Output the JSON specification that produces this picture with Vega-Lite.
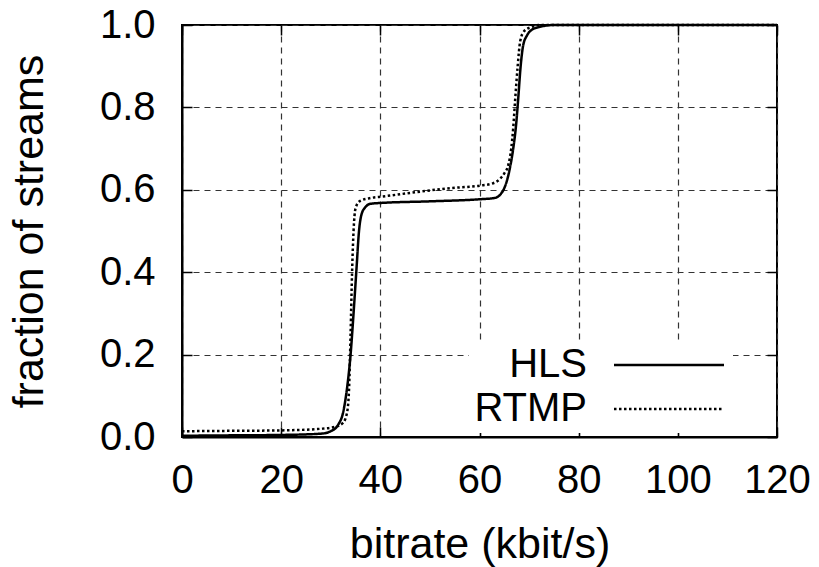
{
  "$schema": "https://vega.github.io/schema/vega-lite/v6.json",
  "width": 595,
  "height": 412,
  "autosize": {"type": "none"},
  "padding": {"left": 182, "top": 25, "right": 42, "bottom": 130},
  "background": "white",
  "config": {
    "font": "Liberation Sans",
    "view": {"stroke": "black", "strokeWidth": 2},
    "axis": {"labelFont": "Liberation Sans", "titleFont": "Liberation Sans", "labelColor": "black", "titleColor": "black", "titleFontWeight": "normal", "domainColor": "black", "domainWidth": 2, "tickColor": "black", "tickWidth": 1.5}
  },
  "data": {"values": [
    {"s": "HLS", "x": 0, "y": 0.003},
    {"s": "HLS", "x": 10, "y": 0.004},
    {"s": "HLS", "x": 20, "y": 0.005},
    {"s": "HLS", "x": 28, "y": 0.008},
    {"s": "HLS", "x": 30, "y": 0.014},
    {"s": "HLS", "x": 31.5, "y": 0.03},
    {"s": "HLS", "x": 32.5, "y": 0.06},
    {"s": "HLS", "x": 33.3, "y": 0.12},
    {"s": "HLS", "x": 34, "y": 0.2},
    {"s": "HLS", "x": 34.6, "y": 0.3},
    {"s": "HLS", "x": 35.2, "y": 0.41},
    {"s": "HLS", "x": 35.7, "y": 0.5},
    {"s": "HLS", "x": 36.2, "y": 0.54},
    {"s": "HLS", "x": 37, "y": 0.558},
    {"s": "HLS", "x": 38, "y": 0.566},
    {"s": "HLS", "x": 40, "y": 0.568},
    {"s": "HLS", "x": 50, "y": 0.572},
    {"s": "HLS", "x": 60, "y": 0.577},
    {"s": "HLS", "x": 63, "y": 0.58},
    {"s": "HLS", "x": 64.3, "y": 0.59},
    {"s": "HLS", "x": 65.2, "y": 0.61},
    {"s": "HLS", "x": 66, "y": 0.645},
    {"s": "HLS", "x": 66.8, "y": 0.7},
    {"s": "HLS", "x": 67.4, "y": 0.76},
    {"s": "HLS", "x": 67.8, "y": 0.82},
    {"s": "HLS", "x": 68.3, "y": 0.9},
    {"s": "HLS", "x": 68.8, "y": 0.95},
    {"s": "HLS", "x": 69.6, "y": 0.975},
    {"s": "HLS", "x": 70.5, "y": 0.988},
    {"s": "HLS", "x": 72, "y": 0.995},
    {"s": "HLS", "x": 75, "y": 1.0},
    {"s": "HLS", "x": 120, "y": 1.0},
    {"s": "RTMP", "x": 0, "y": 0.014},
    {"s": "RTMP", "x": 10, "y": 0.015},
    {"s": "RTMP", "x": 20, "y": 0.016},
    {"s": "RTMP", "x": 28, "y": 0.02},
    {"s": "RTMP", "x": 31, "y": 0.025},
    {"s": "RTMP", "x": 32.5, "y": 0.035},
    {"s": "RTMP", "x": 33.3, "y": 0.06},
    {"s": "RTMP", "x": 33.7, "y": 0.12},
    {"s": "RTMP", "x": 34, "y": 0.25},
    {"s": "RTMP", "x": 34.3, "y": 0.4},
    {"s": "RTMP", "x": 34.6, "y": 0.5},
    {"s": "RTMP", "x": 35, "y": 0.555},
    {"s": "RTMP", "x": 35.8, "y": 0.572},
    {"s": "RTMP", "x": 38, "y": 0.58},
    {"s": "RTMP", "x": 40, "y": 0.583},
    {"s": "RTMP", "x": 47, "y": 0.594},
    {"s": "RTMP", "x": 54, "y": 0.604},
    {"s": "RTMP", "x": 60, "y": 0.61},
    {"s": "RTMP", "x": 62.5, "y": 0.615},
    {"s": "RTMP", "x": 64, "y": 0.625},
    {"s": "RTMP", "x": 65, "y": 0.64},
    {"s": "RTMP", "x": 65.8, "y": 0.66},
    {"s": "RTMP", "x": 66.4, "y": 0.7},
    {"s": "RTMP", "x": 66.8, "y": 0.75},
    {"s": "RTMP", "x": 67.2, "y": 0.82},
    {"s": "RTMP", "x": 67.7, "y": 0.9},
    {"s": "RTMP", "x": 68.2, "y": 0.96},
    {"s": "RTMP", "x": 69, "y": 0.985},
    {"s": "RTMP", "x": 70.5, "y": 0.995},
    {"s": "RTMP", "x": 72, "y": 1.0},
    {"s": "RTMP", "x": 120, "y": 1.0}
  ]},
  "resolve": {"axis": {"x": "independent", "y": "independent"}},
  "layer": [
    {
      "mark": {"type": "line", "interpolate": "monotone", "strokeWidth": 2.5, "color": "black"},
      "encoding": {
        "x": {"field": "x", "type": "quantitative", "scale": {"domain": [0, 120], "nice": false},
          "axis": {"orient": "bottom", "values": [0, 20, 40, 60, 80, 100, 120], "title": "bitrate (kbit/s)", "labelFontSize": 40, "titleFontSize": 43, "tickSize": -10, "labelPadding": 33, "titleY": 120, "titleBaseline": "alphabetic", "grid": true, "gridDash": [6, 5], "gridColor": "#333", "gridWidth": 1.2, "gridOpacity": 1, "labelFlush": false}},
        "y": {"field": "y", "type": "quantitative", "scale": {"domain": [0, 1], "nice": false},
          "axis": {"orient": "left", "values": [0, 0.2, 0.4, 0.6, 0.8, 1.0], "format": ".1f", "title": "fraction of streams", "labelFontSize": 40, "titleFontSize": 43, "tickSize": -10, "labelPadding": 37, "titleX": -140, "titleBaseline": "alphabetic", "grid": true, "gridDash": [6, 5], "gridColor": "#333", "gridWidth": 1.2, "gridOpacity": 1, "labelFlush": false}},
        "strokeDash": {"field": "s", "type": "nominal", "scale": {"domain": ["HLS", "RTMP"], "range": [[1, 0], [2.5, 2.5]]},
          "legend": {"orient": "none", "legendX": 287, "legendY": 316, "title": null, "fillColor": "white", "padding": 4, "labelFontSize": 40, "labelFont": "Liberation Sans", "labelColor": "black", "labelAlign": "right", "labelOffset": -102, "symbolOffset": 176, "symbolType": "M-5,0H5", "symbolSize": 484, "symbolStrokeWidth": 2.5, "symbolStrokeColor": "black", "rowPadding": 4}}
      }
    },
    {
      "mark": {"type": "point", "opacity": 0},
      "encoding": {
        "x": {"field": "x", "type": "quantitative", "scale": {"domain": [0, 120], "nice": false},
          "axis": {"orient": "top", "values": [0, 20, 40, 60, 80, 100, 120], "labels": false, "title": null, "tickSize": -10, "domain": false, "grid": false}},
        "y": {"field": "y", "type": "quantitative", "scale": {"domain": [0, 1], "nice": false},
          "axis": {"orient": "right", "values": [0, 0.2, 0.4, 0.6, 0.8, 1.0], "labels": false, "title": null, "tickSize": -10, "domain": false, "grid": false}}
      }
    }
  ]
}
